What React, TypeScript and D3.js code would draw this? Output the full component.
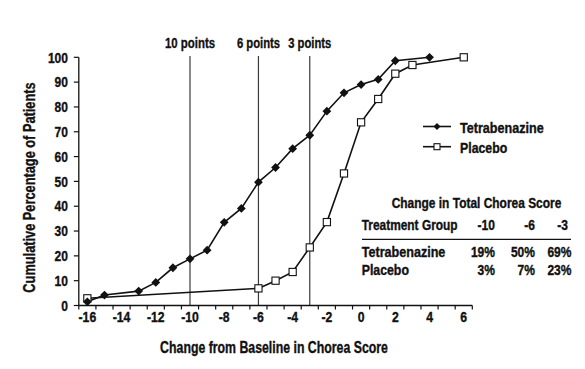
import React from "react";
import * as d3 from "d3";

const tetraX = [-16, -15, -13, -12, -11, -10, -9, -8, -7, -6, -5, -4, -3, -2, -1, 0, 1, 2, 4];
const tetraY = [1.5, 4.2, 5.8, 9.3, 15.2, 18.8, 22.3, 33.5, 39.1, 49.7, 55.6, 63.2, 68.6, 78.3, 85.7, 89, 91.1, 98.6, 100];
const placeboX = [-16, -6, -5, -4, -3, -2, -1, 0, 1, 2, 3, 6];
const placeboY = [2.9, 6.9, 10, 13.5, 23.4, 33.6, 53.2, 73.8, 83.2, 93.4, 96.9, 100];
const xLabels = [-16, -14, -12, -10, -8, -6, -4, -2, 0, 2, 4, 6];
const yTicks = [0, 10, 20, 30, 40, 50, 60, 70, 80, 90, 100];
const refLines = [-10, -6, -3];
const refLabels = ["10 points", "6 points", "3 points"];
const tableCols = ["-10", "-6", "-3"];
const tableRows = ["Tetrabenazine", "Placebo"];
const tableVals = [["19%", "50%", "69%"], ["3%", "7%", "23%"]];

const FONT = "'Liberation Sans', Arial, sans-serif";
const ink = "#111";

type TxtProps = {
  x: number;
  y: number;
  children: React.ReactNode;
  anchor?: "start" | "middle" | "end";
  size?: number;
  sx?: number;
  rotate?: number;
};

function Txt({ x, y, children, anchor = "start", size = 14, sx = 0.86, rotate = 0 }: TxtProps) {
  return (
    <text
      transform={`translate(${x},${y}) rotate(${rotate}) scale(${sx},1)`}
      textAnchor={anchor}
      fontSize={size}
      fill={ink}
      stroke={ink}
      strokeWidth={0.35}
    >
      {children}
    </text>
  );
}

export default function App() {
  const W = 585, H = 369;
  const x = d3.scaleLinear().domain([-16.5, 6.5]).range([78.8, 472.3]);
  const y = d3.scaleLinear().domain([0, 100]).range([305.5, 57.3]);
  const minorTicks = d3.range(-16.5, 6.6, 1);
  const mk = d3.line<[number, number]>().x((d) => x(d[0])).y((d) => y(d[1]));
  const tetraPath = mk(tetraX.map((v, i) => [v, tetraY[i]] as [number, number]));
  const placeboPath = mk(placeboX.map((v, i) => [v, placeboY[i]] as [number, number]));
  const diamond = (cx: number, cy: number, r = 4.4) => `M${cx},${cy - r}L${cx + r},${cy}L${cx},${cy + r}L${cx - r},${cy}Z`;
  const colRight = [495, 535, 570];
  const refSx = [0.76, 0.75, 0.75];
  return (
    <svg width={W} height={H} style={{ position: "absolute", left: 0, top: 0, background: "#fff" }} fontFamily={FONT} fontWeight="bold">
      <rect width={W} height={H} fill="#fff" />
      {refLines.map((v, i) => (
        <g key={v}>
          <line x1={x(v)} x2={x(v)} y1={y(0)} y2={56} stroke="#3a3a3a" strokeWidth={1.2} />
          <Txt x={x(v)} y={47.5} anchor="middle" size={15} sx={refSx[i]}>{refLabels[i]}</Txt>
        </g>
      ))}
      <line x1={x(-16.5)} x2={x(6.5)} y1={y(0)} y2={y(0)} stroke={ink} strokeWidth={1.3} />
      <line x1={x(-16.5)} x2={x(-16.5)} y1={y(0)} y2={y(100)} stroke={ink} strokeWidth={1.3} />
      {minorTicks.map((t) => (
        <line key={t} x1={x(t)} x2={x(t)} y1={y(0)} y2={y(0) + 4} stroke={ink} strokeWidth={1.2} />
      ))}
      {yTicks.map((t) => (
        <g key={t}>
          <line x1={x(-16.5) - 5} x2={x(-16.5)} y1={y(t)} y2={y(t)} stroke={ink} strokeWidth={1.2} />
          <Txt x={68} y={y(t) + 5.2} anchor="end" sx={0.86}>{t}</Txt>
        </g>
      ))}
      {xLabels.map((t) => (
        <Txt key={t} x={x(t)} y={321.7} anchor="middle" sx={0.87}>{t}</Txt>
      ))}
      <Txt x={274} y={353.3} anchor="middle" size={16} sx={0.77}>Change from Baseline in Chorea Score</Txt>
      <Txt x={35} y={187.5} anchor="middle" size={16} sx={0.8} rotate={-90}>Cumulative Percentage of Patients</Txt>
      <path d={placeboPath || ""} fill="none" stroke={ink} strokeWidth={1.6} />
      <path d={tetraPath || ""} fill="none" stroke={ink} strokeWidth={1.6} />
      {placeboX.map((v, i) => (
        <rect key={"p" + i} x={x(v) - 3.6} y={y(placeboY[i]) - 3.6} width={7.2} height={7.2} fill="#fff" stroke={ink} strokeWidth={1.1} />
      ))}
      {tetraX.map((v, i) => (
        <path key={"t" + i} d={diamond(x(v), y(tetraY[i]))} fill={ink} />
      ))}
      <line x1={423} x2={451} y1={126.5} y2={126.5} stroke={ink} strokeWidth={1.6} />
      <path d={diamond(437, 126.5, 3.5)} fill={ink} />
      <Txt x={460} y={132.7} sx={0.9}>Tetrabenazine</Txt>
      <line x1={423} x2={451} y1={146.7} y2={146.7} stroke={ink} strokeWidth={1.6} />
      <rect x={434} y={143.7} width={6} height={6} fill="#fff" stroke={ink} strokeWidth={1.1} />
      <Txt x={460} y={152.7} sx={0.88}>Placebo</Txt>
      <Txt x={391.7} y={208.3} sx={0.854}>Change in Total Chorea Score</Txt>
      <Txt x={361.7} y={230} sx={0.851}>Treatment Group</Txt>
      {tableCols.map((c, i) => (
        <Txt key={c} x={colRight[i] - (i === 2 ? 2 : 0)} y={230} anchor="end" sx={0.86}>{c}</Txt>
      ))}
      <line x1={362} x2={571} y1={239.3} y2={239.3} stroke={ink} strokeWidth={1.3} />
      {tableRows.map((r, j) => (
        <g key={r}>
          <Txt x={361.7} y={256.7 + j * 18.3} sx={j === 0 ? 0.9 : 0.88}>{r}</Txt>
          {tableVals[j].map((v, i) => (
            <Txt key={i} x={colRight[i] + (i === 2 ? 1.5 : 0)} y={256.7 + j * 18.3} anchor="end" sx={0.86}>{v}</Txt>
          ))}
        </g>
      ))}
    </svg>
  );
}
